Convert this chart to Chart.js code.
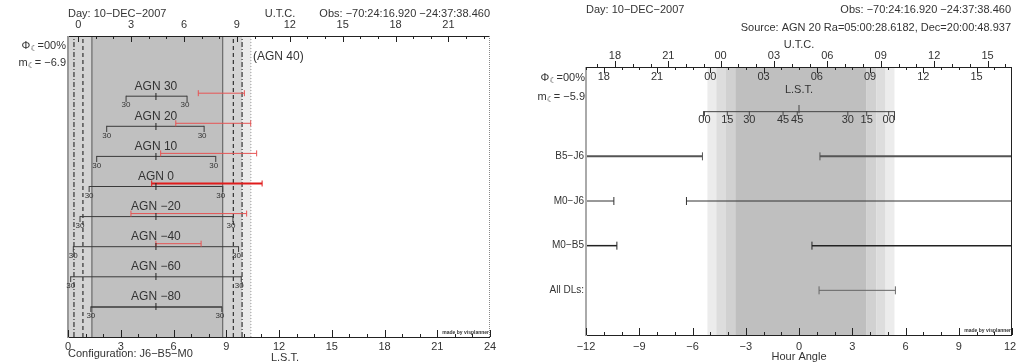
<!DOCTYPE html>
<html>
<head>
<meta charset="utf-8">
<script src="https://cdn.jsdelivr.net/npm/chart.js@4.4.1/dist/chart.umd.min.js"></script>
<style>
  body { margin: 0; background: #fff; width: 1017px; height: 364px; position: relative; overflow: hidden; }
  canvas { position: absolute; top: 0; }
  #left { left: 0; }
  #right { left: 505px; }
</style>
</head>
<body>
<canvas id="left" width="505" height="364"></canvas>
<canvas id="right" width="512" height="364"></canvas>
<script>
// left panel: sources vs L.S.T.
const sources = ['AGN 30', 'AGN 20', 'AGN 10', 'AGN 0', 'AGN −20', 'AGN −40', 'AGN −60', 'AGN −80'];
const sourceRows = [8, 7, 6, 5, 4, 3, 2, 1];
const transitLst = 5.0;
const elevStart = [3.3, 2.2, 1.63, 1.2, 0.68, 0.3, 0.15, 1.3];
const elevEnd = [6.77, 7.74, 8.4, 8.8, 9.38, 9.7, 9.85, 8.75];
const obsStart = [7.41, 6.13, 5.27, 4.76, 3.58, 5.0, null, null];
const obsEnd = [10.03, 10.39, 10.73, 11.04, 10.16, 7.57, null, null];
const lstLabels = ['0', '3', '6', '9', '12', '15', '18', '21', '24'];
const lstValues = [0, 3, 6, 9, 12, 15, 18, 21, 24];
const utcLabelsLeft = ['0', '3', '6', '9', '12', '15', '18', '21'];
const utcValuesLeft = [0, 3, 6, 9, 12, 15, 18, 21];
const twilightLst = [0.34, 0.85, 1.36, 8.8, 9.4, 9.9, 10.4];
const shadeLst = [[0, 1.36], [1.36, 8.8], [8.8, 9.9], [9.9, 10.4]];
const utcOffset = 0.58; // LST at 0h UTC

// right panel: AGN 20 by baseline vs hour angle
const sourceRa = 5.0;
const baselines = ['B5−J6', 'M0−J6', 'M0−B5', 'All DLs:'];
const baselineRows = [4, 3, 2, 1];
const baselineRanges = [
  [[-12, -5.44], [1.18, 12]],
  [[-12, -10.43], [-6.34, 12]],
  [[-12, -10.26], [0.73, 12]],
  [[1.13, 5.43]]
];
const haLabels = ['−12', '−9', '−6', '−3', '0', '3', '6', '9', '12'];
const haValues = [-12, -9, -6, -3, 0, 3, 6, 9, 12];
const lstLabelsRight = ['18', '21', '00', '03', '06', '09', '12', '15'];
const lstValuesRight = [18, 21, 0, 3, 6, 9, 12, 15];
const utcLabelsRight = ['18', '21', '00', '03', '06', '09', '12', '15'];
const utcValuesRight = [18, 21, 0, 3, 6, 9, 12, 15];
const shadeHa = [[-5.16, -4.66], [-4.66, -4.15], [-4.15, -3.59], [-3.59, 3.81], [3.81, 4.37], [4.37, 4.88], [4.88, 5.38]];
const elevLabels = ['00', '15', '30', '45', '45', '30', '15', '00'];
const elevHa = [-5.33, -4.04, -2.8, -0.9, -0.1, 2.75, 3.81, 5.05];
const elevRange = [-5.38, 5.38];

const FONT = '11px "Liberation Sans", Arial, sans-serif';
const INK = '#333';

function txt(ctx, s, x, y, align, font) {
  ctx.font = font || FONT;
  ctx.textAlign = align || 'center';
  ctx.textBaseline = 'middle';
  ctx.fillStyle = INK;
  ctx.fillText(s, x, y);
}

function moonText(ctx, sym, rest, xr, y) {
  ctx.font = FONT;
  const w1 = ctx.measureText(sym).width;
  const w3 = ctx.measureText(rest).width;
  ctx.font = '8px "DejaVu Sans", sans-serif';
  const w2 = ctx.measureText('☾').width;
  const x0 = xr - w1 - w2 - w3;
  txt(ctx, sym, x0, y, 'left');
  txt(ctx, '☾', x0 + w1, y + 3, 'left', '8px "DejaVu Sans", sans-serif');
  txt(ctx, rest, x0 + w1 + w2, y, 'left');
}

function vtick(ctx, x, y0, y1) {
  const px = Math.round(x) + 0.5;
  ctx.beginPath(); ctx.moveTo(px, y0); ctx.lineTo(px, y1); ctx.stroke();
}

// small canvases used as point styles: a tick that runs `up` px above and `down` px below the point
function tickImage(up, down, color) {
  const h = Math.max(up, down) * 2 + 1;
  const c = document.createElement('canvas');
  c.width = 3; c.height = h;
  const g = c.getContext('2d');
  g.fillStyle = color;
  const mid = (h - 1) / 2;
  g.fillRect(1, mid - up, 1, up + down + 1);
  return c;
}

function wrapHa(v) { return ((v + 12) % 24 + 24) % 24 - 12; }
const utcToLst = h => utcOffset + 1.00274 * h;

// ---------- left chart ----------
const twilightDash = [[5, 2, 1, 2], [4, 3], [], [], [4, 3], [5, 2, 1, 2], [1, 2]];
const twilightColor = ['#111', '#111', '#555', '#555', '#111', '#111', '#999'];
const leftShadeColors = ['#d4d4d4', '#c0c0c0', '#d4d4d4', '#ececec'];

const leftDatasets = [];
twilightLst.forEach((v, i) => leftDatasets.push({
  data: [{ x: v, y: 0 }, { x: v, y: 10 }],
  borderColor: twilightColor[i], borderWidth: 1, borderDash: twilightDash[i],
  pointRadius: 0, order: 5
}));
sources.forEach((s, i) => {
  leftDatasets.push({
    data: [{ x: elevStart[i], y: sourceRows[i] }, { x: elevEnd[i], y: sourceRows[i] }],
    borderColor: '#3a3a3a', borderWidth: i === 7 ? 1.5 : 1,
    pointStyle: tickImage(0, 5, '#3a3a3a'), pointRadius: 3, order: 2
  });
  if (obsStart[i] != null) {
    const red = i === 3 ? '#e01c1c' : '#e65454';
    leftDatasets.push({
      data: [{ x: obsStart[i], y: sourceRows[i] + 0.1 }, { x: obsEnd[i], y: sourceRows[i] + 0.1 }],
      borderColor: red, borderWidth: i === 3 ? 2 : 1,
      pointStyle: 'line', pointRotation: 90, pointRadius: 3,
      pointBorderColor: red, pointBorderWidth: 1, order: 1
    });
  }
});
leftDatasets.push({
  data: sourceRows.map(r => ({ x: transitLst, y: r })),
  showLine: false, pointStyle: tickImage(3, 3, '#222'), pointRadius: 3, order: 0
});

const leftDecor = {
  id: 'leftDecor',
  beforeDatasetsDraw(chart) {
    const { ctx, chartArea: a, scales: { x } } = chart;
    shadeLst.forEach((s, i) => {
      const x0 = x.getPixelForValue(s[0]), x1 = x.getPixelForValue(s[1]);
      ctx.fillStyle = leftShadeColors[i];
      ctx.fillRect(x0, a.top, x1 - x0, a.bottom - a.top);
    });
  },
  afterDatasetsDraw(chart) {
    const { ctx, chartArea: a, scales: { x, y } } = chart;
    ctx.save();
    // frame
    ctx.strokeStyle = '#222'; ctx.lineWidth = 1;
    ctx.beginPath();
    ctx.moveTo(a.left, Math.round(a.top) + 0.5); ctx.lineTo(a.right, Math.round(a.top) + 0.5);
    ctx.moveTo(a.left, Math.round(a.bottom) + 0.5); ctx.lineTo(a.right, Math.round(a.bottom) + 0.5);
    ctx.stroke();
    ctx.strokeStyle = '#999'; ctx.lineWidth = 2;
    ctx.beginPath(); ctx.moveTo(a.left, a.top); ctx.lineTo(a.left, a.bottom + 1); ctx.stroke();
    ctx.strokeStyle = '#888'; ctx.lineWidth = 1; ctx.setLineDash([1, 1]);
    vtick(ctx, a.right - 1, a.top, a.bottom);
    ctx.setLineDash([]);
    // axis ticks
    ctx.strokeStyle = '#222';
    for (let h = 0; h <= 24; h++) {
      const px = x.getPixelForValue(h);
      vtick(ctx, px, a.bottom, a.bottom - (h % 3 === 0 ? 7 : 3));
    }
    for (let h = 0; h < 24; h++) {
      const l = utcToLst(h);
      if (l > 24) continue;
      vtick(ctx, x.getPixelForValue(l), a.top, a.top + (h % 3 === 0 ? 6 : 3));
    }
    lstValues.forEach((v, i) => txt(ctx, lstLabels[i], x.getPixelForValue(v), 347));
    utcValuesLeft.forEach((v, i) => txt(ctx, utcLabelsLeft[i], x.getPixelForValue(utcToLst(v)), 25));
    // source labels
    sources.forEach((s, i) => {
      const py = y.getPixelForValue(sourceRows[i]);
      txt(ctx, s, x.getPixelForValue(transitLst), py - 10, 'center', '12px "Liberation Sans", Arial, sans-serif');
      const sf = '8px "Liberation Sans", Arial, sans-serif';
      txt(ctx, '30', x.getPixelForValue(elevStart[i]), py + 9, 'center', sf);
      txt(ctx, '30', x.getPixelForValue(elevEnd[i]) - 2, py + 9, 'center', sf);
    });
    txt(ctx, '(AGN 40)', 253, y.getPixelForValue(9.3), 'left', '12px "Liberation Sans", Arial, sans-serif');
    // header / footer
    txt(ctx, 'Day: 10−DEC−2007', 68, 14, 'left');
    txt(ctx, 'U.T.C.', 280, 14);
    txt(ctx, 'Obs: −70:24:16.920 −24:37:38.460', a.right, 14, 'right');
    moonText(ctx, 'Φ', '=00%', 66, 46);
    moonText(ctx, 'm', '= −6.9', 66, 63);
    txt(ctx, 'L.S.T.', 285, 358);
    txt(ctx, 'Configuration: J6−B5−M0', 68, 354, 'left');
    txt(ctx, 'made by visplanner', a.right - 1, a.bottom - 4, 'right', 'bold 5px "Liberation Sans", Arial, sans-serif');
    ctx.restore();
  }
};

new Chart(document.getElementById('left'), {
  type: 'line',
  data: { datasets: leftDatasets },
  options: {
    responsive: false, animation: false, events: [],
    layout: { padding: { left: 68, right: 15, top: 36, bottom: 27 } },
    elements: { line: { tension: 0 } },
    scales: {
      x: { type: 'linear', min: 0, max: 24, display: false },
      y: { type: 'linear', min: 0, max: 10, display: false }
    },
    plugins: { legend: { display: false }, tooltip: { enabled: false } }
  },
  plugins: [leftDecor]
});

// ---------- right chart ----------
const rightShadeColors = ['#ececec', '#dddddd', '#d1d1d1', '#bfbfbf', '#d1d1d1', '#dddddd', '#ececec'];
const rowColor = ['#555', '#333', '#222', '#666'];
const rowWidth = [2, 1, 1.5, 1];

const rightDatasets = [];
baselines.forEach((b, i) => baselineRanges[i].forEach(r => rightDatasets.push({
  data: [{ x: r[0], y: baselineRows[i] }, { x: r[1], y: baselineRows[i] }],
  borderColor: rowColor[i], borderWidth: rowWidth[i],
  pointStyle: 'line', pointRotation: 90,
  pointRadius: c => (c.raw && Math.abs(c.raw.x) >= 12 ? 0 : 4),
  pointBorderColor: rowColor[i], pointBorderWidth: 1, order: 1
})));
rightDatasets.push({
  data: [{ x: elevRange[0], y: 5 }, { x: elevRange[1], y: 5 }],
  borderColor: '#444', borderWidth: 1,
  pointStyle: tickImage(0, 8, '#444'), pointRadius: 4, order: 1
});
rightDatasets.push({
  data: elevHa.map(v => ({ x: v, y: 5 })),
  showLine: false, pointStyle: tickImage(0, 4, '#444'), pointRadius: 3, order: 0
});
rightDatasets.push({
  data: [{ x: 0, y: 5 }],
  showLine: false, pointStyle: tickImage(6, 1, '#444'), pointRadius: 3, order: 0
});

const rightDecor = {
  id: 'rightDecor',
  beforeDatasetsDraw(chart) {
    const { ctx, chartArea: a, scales: { x } } = chart;
    shadeHa.forEach((s, i) => {
      const x0 = x.getPixelForValue(s[0]), x1 = x.getPixelForValue(s[1]);
      ctx.fillStyle = rightShadeColors[i];
      ctx.fillRect(x0, a.top, x1 - x0, a.bottom - a.top);
    });
  },
  afterDatasetsDraw(chart) {
    const { ctx, chartArea: a, scales: { x, y } } = chart;
    ctx.save();
    ctx.strokeStyle = '#222'; ctx.lineWidth = 1;
    ctx.beginPath();
    ctx.moveTo(a.left, Math.round(a.top) + 0.5); ctx.lineTo(a.right, Math.round(a.top) + 0.5);
    ctx.moveTo(a.left, Math.round(a.bottom) + 0.5); ctx.lineTo(a.right, Math.round(a.bottom) + 0.5);
    ctx.stroke();
    vtick(ctx, a.right - 1, a.top, a.bottom);
    ctx.strokeStyle = '#aaa'; ctx.lineWidth = 2;
    ctx.beginPath(); ctx.moveTo(a.left, a.top); ctx.lineTo(a.left, a.bottom + 1); ctx.stroke();
    ctx.strokeStyle = '#222'; ctx.lineWidth = 1;
    // bottom hour-angle ticks
    for (let h = -12; h <= 12; h++) {
      vtick(ctx, x.getPixelForValue(h), a.bottom, a.bottom - (h % 3 === 0 ? 7 : 3));
    }
    // top: U.T.C. ticks above, L.S.T. ticks below
    for (let h = 0; h < 24; h++) {
      const hu = wrapHa(utcToLst(h) - sourceRa);
      vtick(ctx, x.getPixelForValue(hu), a.top, a.top - (h % 3 === 0 ? 6 : 3));
      const hl = wrapHa(h - sourceRa);
      vtick(ctx, x.getPixelForValue(hl), a.top, a.top + (h % 3 === 0 ? 6 : 3));
    }
    haValues.forEach((v, i) => txt(ctx, haLabels[i], Math.min(x.getPixelForValue(v), a.right - 2), 347));
    utcValuesRight.forEach((v, i) => txt(ctx, utcLabelsRight[i], x.getPixelForValue(wrapHa(utcToLst(v) - sourceRa)), 56));
    lstValuesRight.forEach((v, i) => txt(ctx, lstLabelsRight[i], x.getPixelForValue(wrapHa(v - sourceRa)), 77));
    elevHa.forEach((v, i) => txt(ctx, elevLabels[i], x.getPixelForValue(v), y.getPixelForValue(5) + 8));
    baselines.forEach((b, i) => txt(ctx, b, a.left - 2, y.getPixelForValue(baselineRows[i]), 'right', '10px "Liberation Sans", Arial, sans-serif'));
    // header / footer
    txt(ctx, 'Day: 10−DEC−2007', a.left, 10, 'left');
    txt(ctx, 'Obs: −70:24:16.920 −24:37:38.460', a.right - 1, 10, 'right');
    txt(ctx, 'Source: AGN 20 Ra=05:00:28.6182, Dec=20:00:48.937', a.right - 1, 28, 'right');
    txt(ctx, 'U.T.C.', x.getPixelForValue(0), 45);
    txt(ctx, 'L.S.T.', x.getPixelForValue(0), 90);
    moonText(ctx, 'Φ', '=00%', a.left - 1, 78);
    moonText(ctx, 'm', '= −5.9', a.left - 1, 97);
    txt(ctx, 'Hour Angle', x.getPixelForValue(0), 357);
    txt(ctx, 'made by visplanner', a.right - 1, a.bottom - 4, 'right', 'bold 5px "Liberation Sans", Arial, sans-serif');
    ctx.restore();
  }
};

new Chart(document.getElementById('right'), {
  type: 'line',
  data: { datasets: rightDatasets },
  options: {
    responsive: false, animation: false, events: [],
    layout: { padding: { left: 81, right: 2, top: 67, bottom: 29 } },
    elements: { line: { tension: 0 } },
    scales: {
      x: { type: 'linear', min: -12, max: 12, display: false },
      y: { type: 'linear', min: 0, max: 6, display: false }
    },
    plugins: { legend: { display: false }, tooltip: { enabled: false } }
  },
  plugins: [rightDecor]
});
</script>
</body>
</html>
